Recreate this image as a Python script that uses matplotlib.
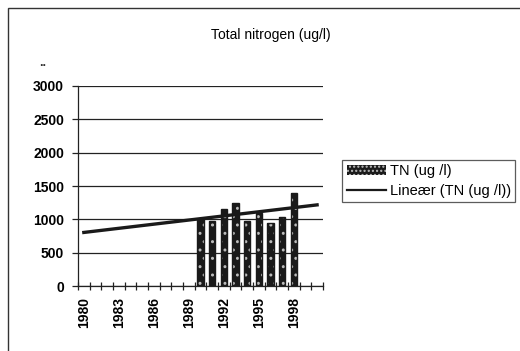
import numpy as np
import matplotlib.pyplot as plt
from matplotlib.patches import Rectangle

plt.rcParams['font.family'] = ['Liberation Sans', 'DejaVu Sans']

# Data
years = list(range(1980, 2001))
bar_years = [1990, 1991, 1992, 1993, 1994, 1995, 1996, 1997, 1998]
tn = [1000, 980, 1150, 1240, 980, 1100, 950, 1040, 1400]
label_years = [1980, 1983, 1986, 1989, 1992, 1995, 1998]
yticks = [0, 500, 1000, 1500, 2000, 2500, 3000]

fig = plt.figure(figsize=(5.2, 3.51), dpi=100)
ax = fig.add_axes([0.15, 0.185, 0.471, 0.570])

pos = [years.index(y) for y in bar_years]

# Bars: dark fill with white dots, then a black outline on top
ax.bar(pos, tn, width=0.55, color='#1a1a1a', edgecolor='#bbbbbb', hatch='..',
       linewidth=0, zorder=3)
ax.bar(pos, tn, width=0.55, fill=False, edgecolor='#1a1a1a', linewidth=1.0,
       zorder=4)

# Linear trend (Excel-style, over category index, extended to all years)
xi = np.array(pos) + 1
k, m = np.polyfit(xi, tn, 1)
xall = np.arange(len(years)) + 1
ax.plot(xall - 1, k * xall + m, color='#1a1a1a', linewidth=2.4, zorder=5)

# Legend handles
h_bar = Rectangle((0, 0), 1, 1, facecolor='#1a1a1a', edgecolor='#bbbbbb',
                  hatch='....', linewidth=0)
h_line, = ax.plot([], [], color='#1a1a1a', linewidth=1.6)
leg = fig.legend([h_bar, h_line], ['TN (ug /l)', 'Lineær (TN (ug /l))'],
                 loc='upper left', bbox_to_anchor=(0.658, 0.545),
                 fontsize=10.5, frameon=True, fancybox=False, borderpad=0.3,
                 handlelength=2.7, handletextpad=0.25, labelspacing=0.4,
                 borderaxespad=0)
leg.get_frame().set_edgecolor('#333333')
leg.get_frame().set_linewidth(0.9)

# Axes styling
ax.set_xlim(-0.5, len(years) - 0.5)
ax.set_ylim(0, 3000)
ax.set_yticks(yticks)
ax.set_yticklabels([str(v) for v in yticks], fontsize=10, fontweight='bold')
ax.yaxis.grid(True, color='#222222', linewidth=0.9)
ax.set_axisbelow(True)

ax.set_xticks(np.arange(len(years) + 1) - 0.5)
ax.set_xticklabels([])
ax.set_xticks([years.index(y) for y in label_years], minor=True)
ax.set_xticklabels([str(y) for y in label_years], minor=True, rotation=90,
                   fontsize=10, fontweight='bold')
ax.tick_params(axis='x', which='major', direction='inout', length=6,
               width=0.9, color='#222222')
ax.tick_params(axis='x', which='minor', length=0, pad=8)
ax.tick_params(axis='y', direction='out', length=4, width=0.9,
               color='#222222', pad=6)

for s in ['top', 'right']:
    ax.spines[s].set_visible(False)
for s in ['left', 'bottom']:
    ax.spines[s].set_color('#222222')
    ax.spines[s].set_linewidth(0.9)

fig.text(0.52, 0.9, 'Total nitrogen (ug/l)', ha='center', va='center',
         fontsize=10)
fig.text(0.082, 0.82, '..', ha='center', va='center', fontsize=9,
         fontweight='bold', color='#333333')

# Outer chart border
fig.patches.append(Rectangle((0.016, -0.05), 1.1, 1.027, transform=fig.transFigure,
                             fill=False, edgecolor='#333333', linewidth=1.0))

fig.savefig('out.png', dpi=100)
